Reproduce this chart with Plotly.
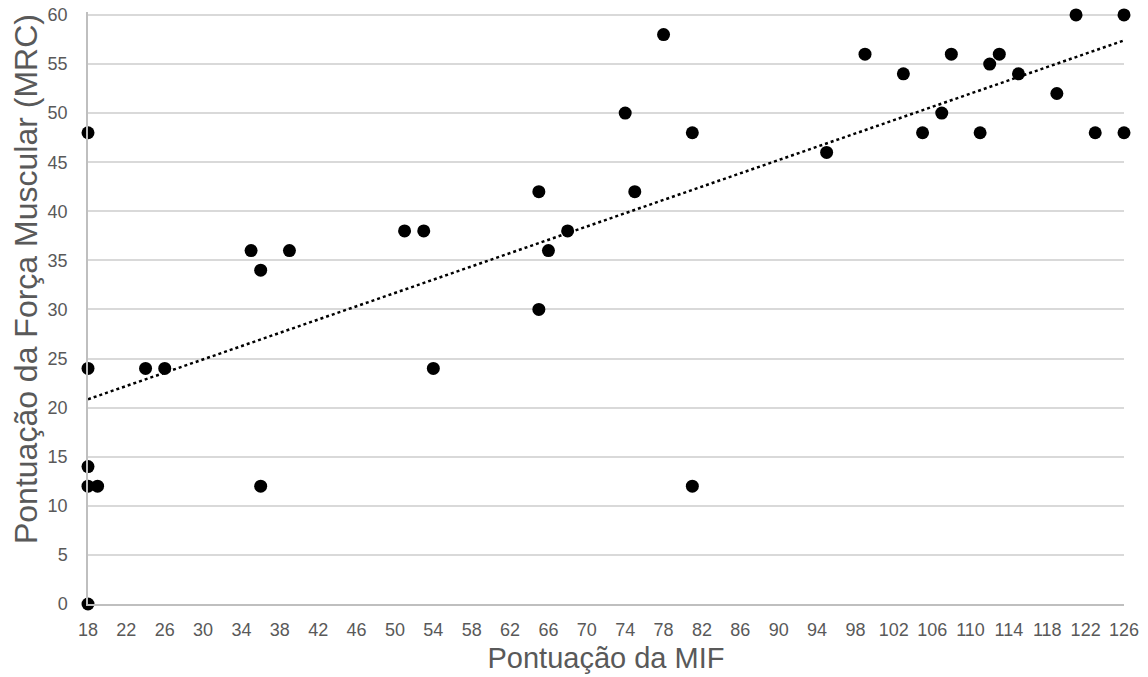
import numpy as np
import plotly.graph_objects as go

mif = [18, 18, 18, 18, 19, 18, 24, 26, 35, 36, 36, 39, 51, 53, 54, 65, 65, 66, 68,
       74, 75, 78, 81, 81, 95, 99, 103, 105, 107, 108, 111, 112, 113, 115, 119,
       121, 123, 126, 126]
mrc = [48, 24, 14, 12, 12, 0, 24, 24, 36, 34, 12, 36, 38, 38, 24, 42, 30, 36, 38,
       50, 42, 58, 48, 12, 46, 56, 54, 48, 50, 56, 48, 55, 56, 54, 52,
       60, 48, 60, 48]

x_ticks = list(range(18, 127, 4))
y_ticks = list(range(0, 61, 5))

slope, intercept = np.polyfit(mif, mrc, 1)
tx = np.array([18, 126])
ty = slope * tx + intercept

fig = go.Figure()
fig.add_trace(go.Scatter(x=tx, y=ty, mode="lines",
                         line=dict(color="black", width=2.5, dash="dot"),
                         hoverinfo="skip", cliponaxis=False))
fig.add_trace(go.Scatter(x=mif, y=mrc, mode="markers",
                         marker=dict(color="black", size=13),
                         cliponaxis=False))

fig.update_layout(
    width=1148, height=677,
    margin=dict(l=88, r=24, t=12, b=73),
    paper_bgcolor="white", plot_bgcolor="white",
    showlegend=False,
    font=dict(family="Liberation Sans, Arial, sans-serif", color="#595959"),
    xaxis=dict(range=[18, 126], tickvals=x_ticks, showgrid=False,
               showline=True, linecolor="#bfbfbf", linewidth=1.5,
               ticks="", ticklabelstandoff=9, automargin=False,
               ticklabeloverflow="allow",
               tickfont=dict(size=18, color="#595959"),
               title=dict(text="Pontuação da MIF", font=dict(size=29, color="#595959"),
                          standoff=8),
               zeroline=False),
    yaxis=dict(range=[0, 60.3], tickvals=y_ticks, showgrid=True,
               gridcolor="#d9d9d9", gridwidth=1.5,
               showline=True, linecolor="#bfbfbf", linewidth=1.5,
               ticks="", ticklabelstandoff=15, automargin=False,
               ticklabeloverflow="allow",
               tickfont=dict(size=18, color="#595959"),
               zeroline=False),
    annotations=[dict(text="Pontuação da Força Muscular (MRC)",
                      xref="paper", yref="paper", x=-0.0598, y=0.549,
                      xanchor="center", yanchor="middle", textangle=-90,
                      showarrow=False, font=dict(size=32, color="#595959"))],
)

fig.write_html("out.html", config={"displayModeBar": False},
               post_script="document.body.style.margin='0';")
